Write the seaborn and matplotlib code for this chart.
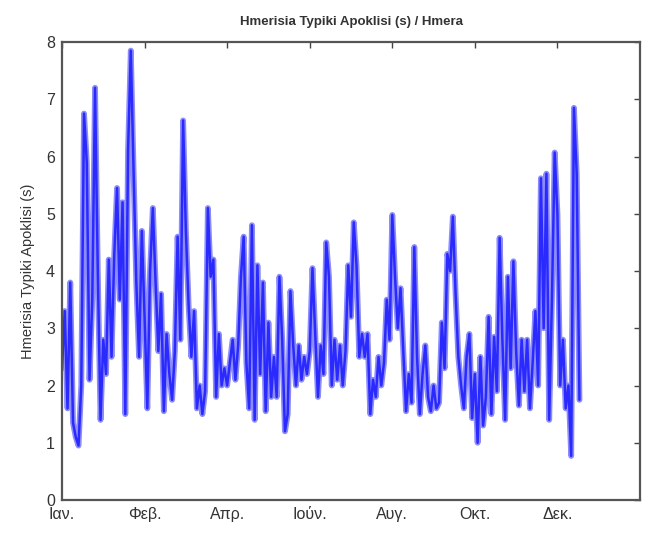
import numpy as np
import pandas as pd
import matplotlib
matplotlib.use("Agg")
import matplotlib.pyplot as plt
import seaborn as sns

# Daily standard deviation (s), sampled every second day of the record
day_step = 2
std_values = [
    2.3, 3.3, 1.6, 3.8, 1.35, 1.1, 0.95, 2.0, 6.75, 5.9,
    2.1, 3.5, 7.2, 4.0, 1.4, 2.8, 2.2, 4.2, 2.5, 4.3,
    5.45, 3.5, 5.2, 1.5, 6.1, 7.85, 5.75, 3.8, 2.5, 4.7,
    3.2, 1.6, 4.0, 5.1, 3.8, 2.6, 3.6, 1.55, 2.9, 2.2,
    1.75, 2.6, 4.6, 2.8, 6.63, 4.7, 3.4, 2.5, 3.3, 1.6,
    2.0, 1.5, 1.9, 5.1, 3.9, 4.2, 1.8, 2.9, 2.0, 2.3,
    2.0, 2.4, 2.8, 2.1, 2.7, 3.9, 4.6, 2.4, 1.6, 4.8,
    1.4, 4.1, 2.2, 3.8, 1.55, 3.1, 1.8, 2.5, 1.8, 3.9,
    2.8, 1.2, 1.5, 3.65, 2.7, 2.0, 2.7, 2.1, 2.5, 2.2,
    2.6, 4.05, 2.9, 1.8, 2.7, 2.2, 4.5, 3.9, 2.0, 2.8,
    2.1, 2.7, 2.0, 2.6, 4.1, 3.2, 4.85, 4.1, 2.5, 2.9,
    2.5, 2.9, 1.5, 2.1, 1.8, 2.5, 2.0, 2.4, 3.5, 2.8,
    4.98, 3.9, 3.0, 3.7, 2.6, 1.55, 2.2, 1.7, 4.42, 2.5,
    1.5, 2.2, 2.7, 1.8, 1.55, 2.0, 1.6, 1.7, 3.1, 2.3,
    4.3, 4.0, 4.95, 3.6, 2.5, 2.0, 1.6, 2.5, 2.9, 1.43,
    2.2, 1.0, 2.5, 1.3, 1.8, 3.2, 1.5, 2.85, 1.9, 4.58,
    2.8, 1.4, 3.9, 2.3, 4.17, 2.6, 1.65, 2.8, 1.9, 2.8,
    1.6, 2.4, 3.3, 2.0, 5.62, 3.0, 5.7, 1.4, 3.5, 6.07,
    5.0, 2.0, 2.8, 1.6, 2.0, 0.77, 6.85, 5.7, 1.75,
]

month_ticks = [0, 60, 120, 180, 240, 300, 360]
month_labels = ["Ιαν.", "Φεβ.", "Απρ.", "Ιούν.", "Αυγ.", "Οκτ.", "Δεκ."]
y_ticks = [0, 1, 2, 3, 4, 5, 6, 7, 8]

df = pd.DataFrame({
    "day": np.arange(len(std_values)) * day_step,
    "std": std_values,
})

sns.set_style("white")
plt.rcParams["font.family"] = ["Liberation Sans", "DejaVu Sans"]

fig = plt.figure(figsize=(6.54, 5.33), dpi=100)
ax = fig.add_axes([0.0948, 0.0619, 0.8838, 0.8593])

# wide pale trace with a narrower saturated core
sns.lineplot(data=df, x="day", y="std", ax=ax, color="#8c8cfa",
             linewidth=4.2)
sns.lineplot(data=df, x="day", y="std", ax=ax, color="#2a2aff",
             linewidth=1.8)

ax.set_xlim(0, 420)
ax.set_ylim(0, 8)
ax.set_xticks(month_ticks)
ax.set_xticklabels(month_labels)
ax.set_yticks(y_ticks)

for side in ["left", "right", "top", "bottom"]:
    ax.spines[side].set_visible(True)
    ax.spines[side].set_color("#555555")
    ax.spines[side].set_linewidth(1.6)

ax.tick_params(direction="in", length=4, width=1, color="#444444",
               top=True, right=True, labelsize=11.5, labelcolor="#333333",
               pad=5)

ax.set_xlabel("")
ax.set_ylabel("Hmerisia Typiki Apoklisi (s)", fontsize=10.5,
              color="#333333", labelpad=8)
ax.set_title("Hmerisia Typiki Apoklisi (s) / Hmera", fontsize=9.5,
             fontweight="bold", color="#333333", pad=12)

fig.savefig("out.png", dpi=100, facecolor="white")
